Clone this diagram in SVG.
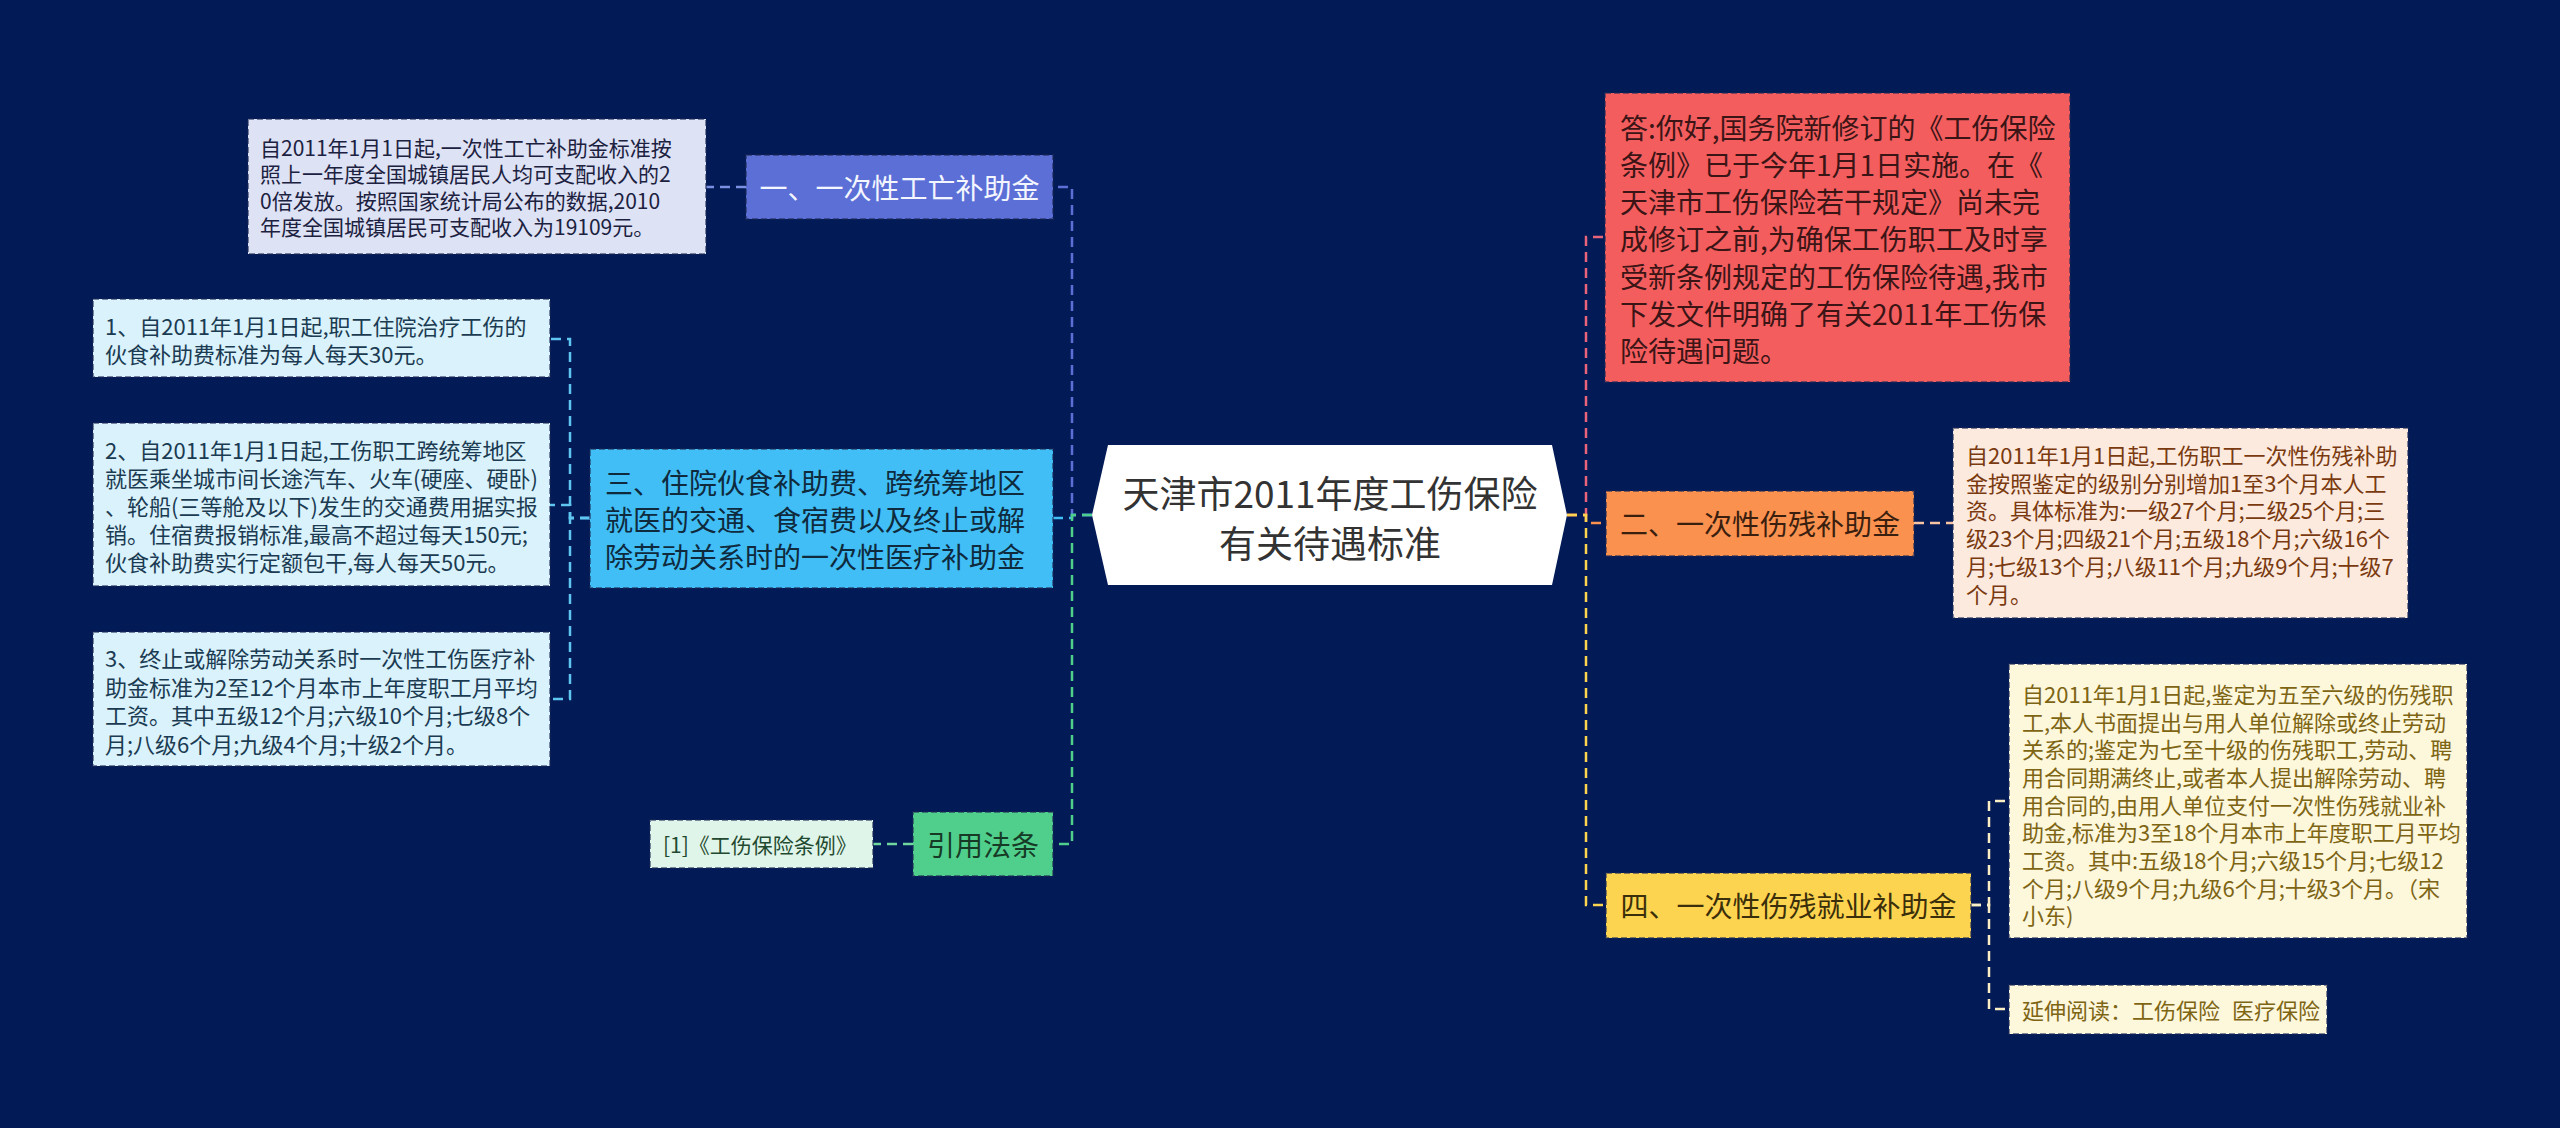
<svg xmlns="http://www.w3.org/2000/svg" width="2560" height="1128" viewBox="0 0 2560 1128">
<style>
text{font-family:"Noto Sans CJK SC","Noto Sans",sans-serif;}
.box{stroke:#1e2a55;stroke-opacity:0.55;stroke-width:2;stroke-dasharray:6 3;}
.l1{font-size:28px;}
.d{font-size:22px;}
.c{fill:none;stroke-width:2.5;stroke-dasharray:10 6;}
</style>
<rect x="0" y="0" width="2560" height="1128" fill="#021a55"/>

<g id="connectors">
  <path class="c" stroke="#5b6fd6" d="M1092,515 H1072 V187 H1053"/>
  <path class="c" stroke="#40bef5" d="M1092,515 H1072 V518 H1053"/>
  <path class="c" stroke="#4fcf8b" d="M1092,515 H1072 V844 H1053"/>
  <path class="c" stroke="#e8647a" d="M1567,515 H1586 V237 H1605"/>
  <path class="c" stroke="#fb914f" d="M1567,515 H1586 V523 H1606"/>
  <path class="c" stroke="#fdd44f" d="M1567,515 H1586 V905 H1606"/>
  <path class="c" stroke="#7d8fe3" d="M746,187 H706"/>
  <path class="c" stroke="#5fc6f2" d="M590,518 H570 V339 H550"/>
  <path class="c" stroke="#5fc6f2" d="M590,518 H570 V505 H550"/>
  <path class="c" stroke="#5fc6f2" d="M590,518 H570 V699 H550"/>
  <path class="c" stroke="#6fd6a0" d="M913,844 H873"/>
  <path class="c" stroke="#f7c3a3" d="M1914,523 H1953"/>
  <path class="c" stroke="#fbeec4" d="M1971,905 H1989 V801 H2009"/>
  <path class="c" stroke="#fbeec4" d="M1971,905 H1989 V1009 H2009"/>
</g>

<g id="center">
  <polygon points="1108,445 1552,445 1567,515 1552,585 1108,585 1092,515" fill="#ffffff"/>
  <text x="1330" y="492" font-size="37" fill="#333333" text-anchor="middle" dominant-baseline="central">天津市2011年度工伤保险</text>
  <text x="1330" y="542" font-size="37" fill="#333333" text-anchor="middle" dominant-baseline="central">有关待遇标准</text>
</g>

<g id="node-1">
  <rect class="box" x="746" y="155" width="307" height="64" fill="#5b6fd6"/>
  <text class="l1" x="899.5" y="187" fill="#f4f6ff" text-anchor="middle" dominant-baseline="central">一、一次性工亡补助金</text>
</g>
<g id="desc-1">
  <rect class="box" x="248" y="119" width="458" height="135" fill="#dde2f5"/>
  <g font-size="21" fill="#1c2140" dominant-baseline="central">
    <text x="260" y="147">自2011年1月1日起,一次性工亡补助金标准按</text>
    <text x="260" y="173">照上一年度全国城镇居民人均可支配收入的2</text>
    <text x="260" y="200">0倍发放。按照国家统计局公布的数据,2010</text>
    <text x="260" y="226">年度全国城镇居民可支配收入为19109元。</text>
  </g>
</g>

<g id="node-3">
  <rect class="box" x="590" y="449" width="463" height="139" fill="#40bef5"/>
  <g class="l1" fill="#0f2a3d" dominant-baseline="central">
    <text x="605" y="482">三、住院伙食补助费、跨统筹地区</text>
    <text x="605" y="519">就医的交通、食宿费以及终止或解</text>
    <text x="605" y="556">除劳动关系时的一次性医疗补助金</text>
  </g>
</g>
<g id="desc-3-1">
  <rect class="box" x="93" y="299" width="457" height="78" fill="#d9f2fc"/>
  <g class="d" fill="#1b3b52" dominant-baseline="central">
    <text x="105" y="325">1、自2011年1月1日起,职工住院治疗工伤的</text>
    <text x="105" y="353">伙食补助费标准为每人每天30元。</text>
  </g>
</g>
<g id="desc-3-2">
  <rect class="box" x="93" y="423" width="457" height="163" fill="#d9f2fc"/>
  <g class="d" fill="#1b3b52" dominant-baseline="central">
    <text x="105" y="449">2、自2011年1月1日起,工伤职工跨统筹地区</text>
    <text x="105" y="477">就医乘坐城市间长途汽车、火车(硬座、硬卧)</text>
    <text x="105" y="505">、轮船(三等舱及以下)发生的交通费用据实报</text>
    <text x="105" y="533">销。住宿费报销标准,最高不超过每天150元;</text>
    <text x="105" y="561">伙食补助费实行定额包干,每人每天50元。</text>
  </g>
</g>
<g id="desc-3-3">
  <rect class="box" x="93" y="632" width="457" height="134" fill="#d9f2fc"/>
  <g class="d" fill="#1b3b52" dominant-baseline="central">
    <text x="105" y="657">3、终止或解除劳动关系时一次性工伤医疗补</text>
    <text x="105" y="686">助金标准为2至12个月本市上年度职工月平均</text>
    <text x="105" y="714">工资。其中五级12个月;六级10个月;七级8个</text>
    <text x="105" y="743">月;八级6个月;九级4个月;十级2个月。</text>
  </g>
</g>

<g id="node-ref">
  <rect class="box" x="913" y="812" width="140" height="64" fill="#4fcf8b"/>
  <text class="l1" x="983" y="844" fill="#173a26" text-anchor="middle" dominant-baseline="central">引用法条</text>
</g>
<g id="desc-ref">
  <rect class="box" x="650" y="820" width="223" height="48" fill="#dff5e9"/>
  <text x="663" y="844" font-size="21" fill="#1f4a30" dominant-baseline="central">[1]《工伤保险条例》</text>
</g>

<g id="node-answer">
  <rect class="box" x="1605" y="93" width="465" height="289" fill="#f45d5e"/>
  <g class="l1" fill="#3b1516" dominant-baseline="central">
    <text x="1620" y="127">答:你好,国务院新修订的《工伤保险</text>
    <text x="1620" y="164">条例》已于今年1月1日实施。在《</text>
    <text x="1620" y="201">天津市工伤保险若干规定》尚未完</text>
    <text x="1620" y="238">成修订之前,为确保工伤职工及时享</text>
    <text x="1620" y="276">受新条例规定的工伤保险待遇,我市</text>
    <text x="1620" y="313">下发文件明确了有关2011年工伤保</text>
    <text x="1620" y="350">险待遇问题。</text>
  </g>
</g>

<g id="node-2">
  <rect class="box" x="1606" y="491" width="308" height="65" fill="#fb914f"/>
  <text class="l1" x="1760" y="523" fill="#3a1f0f" text-anchor="middle" dominant-baseline="central">二、一次性伤残补助金</text>
</g>
<g id="desc-2">
  <rect class="box" x="1953" y="428" width="455" height="190" fill="#fdeadf"/>
  <g class="d" fill="#7a3a10" dominant-baseline="central">
    <text x="1966" y="454">自2011年1月1日起,工伤职工一次性伤残补助</text>
    <text x="1966" y="482">金按照鉴定的级别分别增加1至3个月本人工</text>
    <text x="1966" y="509">资。具体标准为:一级27个月;二级25个月;三</text>
    <text x="1966" y="537">级23个月;四级21个月;五级18个月;六级16个</text>
    <text x="1966" y="565">月;七级13个月;八级11个月;九级9个月;十级7</text>
    <text x="1966" y="593">个月。</text>
  </g>
</g>

<g id="node-4">
  <rect class="box" x="1606" y="873" width="365" height="65" fill="#fdd44f"/>
  <text class="l1" x="1788.5" y="905" fill="#3a2f0a" text-anchor="middle" dominant-baseline="central">四、一次性伤残就业补助金</text>
</g>
<g id="desc-4">
  <rect class="box" x="2009" y="664" width="458" height="274" fill="#fdf7dc"/>
  <g class="d" fill="#7d6514" dominant-baseline="central">
    <text x="2022" y="693">自2011年1月1日起,鉴定为五至六级的伤残职</text>
    <text x="2022" y="721">工,本人书面提出与用人单位解除或终止劳动</text>
    <text x="2022" y="748">关系的;鉴定为七至十级的伤残职工,劳动、聘</text>
    <text x="2022" y="776">用合同期满终止,或者本人提出解除劳动、聘</text>
    <text x="2022" y="804">用合同的,由用人单位支付一次性伤残就业补</text>
    <text x="2022" y="831">助金,标准为3至18个月本市上年度职工月平均</text>
    <text x="2022" y="859">工资。其中:五级18个月;六级15个月;七级12</text>
    <text x="2022" y="887">个月;八级9个月;九级6个月;十级3个月。（宋</text>
    <text x="2022" y="914">小东)</text>
  </g>
</g>
<g id="desc-read">
  <rect class="box" x="2009" y="985" width="318" height="49" fill="#fdf7dc"/>
  <g class="d" fill="#7d6514" dominant-baseline="central">
    <text x="2022" y="1009">延伸阅读：工伤保险</text>
    <text x="2232" y="1009">医疗保险</text>
  </g>
</g>
</svg>
